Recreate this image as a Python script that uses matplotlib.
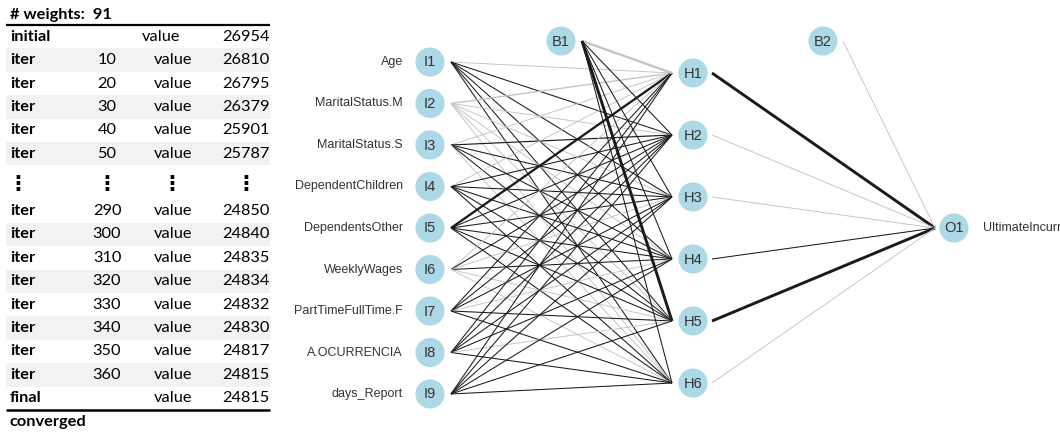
import numpy as np
import matplotlib
matplotlib.use("Agg")
import matplotlib.pyplot as plt
from matplotlib.patches import Circle, Rectangle

# ---- training log (nnet trace) ----
n_weights = 91
log_labels = ["initial", "iter", "iter", "iter", "iter", "iter", None,
              "iter", "iter", "iter", "iter", "iter", "iter", "iter", "iter", "final"]
log_iters = ["", "10", "20", "30", "40", "50", None,
             "290", "300", "310", "320", "330", "340", "350", "360", ""]
log_values = [26954, 26810, 26795, 26379, 25901, 25787, None,
              24850, 24840, 24835, 24834, 24832, 24830, 24817, 24815, 24815]
status = "converged"

# ---- network structure and weights ----
input_names = ["Age", "MaritalStatus.M", "MaritalStatus.S", "DependentChildren",
               "DependentsOther", "WeeklyWages", "PartTimeFullTime.F",
               "A.OCURRENCIA", "days_Report"]
output_name = "UltimateIncurredClaimCost"
n_hidden = 6

# input -> hidden weights (rows: I1..I9, cols: H1..H6)
w_ih = [
    [-0.8, 1.0, 1.0, 1.0, 1.0, 1.0],
    [-1.5, -0.8, -0.8, -0.8, -0.8, -0.8],
    [-0.8, 1.2, 1.0, 1.0, 1.0, -0.8],
    [-0.8, 1.0, 1.0, 1.0, 1.0, 1.0],
    [3.0, 1.0, 1.0, 1.0, 1.0, 1.0],
    [-0.8, 1.0, -0.8, 1.0, -0.8, -0.8],
    [1.0, 1.0, 1.0, -0.8, 1.0, 1.0],
    [1.0, 1.0, 1.0, 1.0, -0.8, 1.0],
    [1.0, 1.0, 1.0, 1.0, 1.0, 1.0],
]
w_b1 = [-3.0, 1.0, 1.0, 1.0, 4.0, 1.0]      # bias B1 -> H1..H6
w_ho = [4.0, -0.8, -0.8, 1.0, 4.0, -0.8]    # H1..H6 -> O1
w_b2 = -0.8                                  # bias B2 -> O1

POS_COL = "#1a1a1a"
NEG_COL = "#c4c4c4"
NODE_COL = "#add8e6"
TXT_COL = "#333333"


def edge_style(w):
    return dict(color=POS_COL if w > 0 else NEG_COL,
                lw=0.3 + 0.45 * abs(w), solid_capstyle="butt", zorder=1)


fig = plt.figure(figsize=(10.6, 4.34), dpi=100)
ax = fig.add_axes([0, 0, 1, 1])
ax.set_xlim(0, 1060)
ax.set_ylim(434, 0)
ax.axis("off")

# ================= table =================
tfont = ["Lato", "DejaVu Sans"]
tsize = 11.8
tx0, tx1 = 6, 270
ax.text(10, 15, f"# weights:  {n_weights}", fontsize=tsize, fontweight="bold",
        family=tfont, va="center", ha="left")
ax.plot([tx0, tx1], [25, 25], color="black", lw=1.6, solid_capstyle="butt")

row_h = 23.4
dots_h = 34
y = 25
shade = False
for lab, it, val in zip(log_labels, log_iters, log_values):
    h = dots_h if lab is None else row_h
    cy = y + h / 2
    if lab is None:
        for xc in (18, 107, 172, 246):
            ax.text(xc, cy + 1, "\u22ee", fontsize=15, fontweight="bold",
                    family=["DejaVu Sans"], ha="center", va="center")
    else:
        if shade:
            ax.add_patch(Rectangle((tx0, y), tx1 - tx0, h, color="#f2f2f2", lw=0, zorder=0))
        ax.text(10, cy, lab, fontsize=tsize, fontweight="bold", family=tfont,
                ha="left", va="center")
        if it:
            ax.text(107, cy, it, fontsize=tsize, family=tfont, ha="center", va="center")
        vx = 161.5 if lab == "initial" else 173
        ax.text(vx, cy, "value", fontsize=tsize, family=tfont, ha="center", va="center")
        ax.text(246, cy, str(val), fontsize=tsize, family=tfont, ha="center", va="center")
        shade = not shade
    y += h

ax.plot([tx0, tx1], [y, y], color="black", lw=1.8, solid_capstyle="butt")
ax.text(10, 422, status, fontsize=tsize, fontweight="bold", family=tfont,
        ha="left", va="center")

# ================= network =================
nfont = ["Liberation Sans", "DejaVu Sans"]
r = 14
x_in, x_hid, x_out = 430, 693, 954
y_in = np.linspace(62, 394, len(input_names))
y_hid = np.linspace(73, 383, n_hidden)
y_out = 228
b1 = (561, 41)
b2 = (823, 41)

# input -> hidden
for i, yi in enumerate(y_in):
    for j, yh in enumerate(y_hid):
        ax.plot([x_in + 21, x_hid - 21], [yi, yh], **edge_style(w_ih[i][j]))
# bias 1 -> hidden
for j, yh in enumerate(y_hid):
    ax.plot([b1[0] + 21, x_hid - 21], [b1[1], yh], **edge_style(w_b1[j]))
# hidden -> output
for j, yh in enumerate(y_hid):
    ax.plot([x_hid + 19, x_out - 19], [yh, y_out], **edge_style(w_ho[j]))
# bias 2 -> output
ax.plot([b2[0] + 20, x_out - 19], [b2[1], y_out], **edge_style(w_b2))


def node(x, y, label):
    ax.add_patch(Circle((x, y), r, facecolor=NODE_COL, edgecolor=NODE_COL, lw=0.8, zorder=3))
    ax.text(x, y + 0.5, label, fontsize=10.5, family=nfont, color=TXT_COL,
            ha="center", va="center", zorder=4)


for i, (yi, name) in enumerate(zip(y_in, input_names)):
    node(x_in, yi, f"I{i + 1}")
    ax.text(403, yi, name, fontsize=9.0, family=nfont, color=TXT_COL,
            ha="right", va="center")
for j, yh in enumerate(y_hid):
    node(x_hid, yh, f"H{j + 1}")
node(*b1, "B1")
node(*b2, "B2")
node(x_out, y_out, "O1")
ax.text(983, y_out, output_name, fontsize=9.0, family=nfont, color=TXT_COL,
        ha="left", va="center")

fig.savefig("out.png", dpi=100)
